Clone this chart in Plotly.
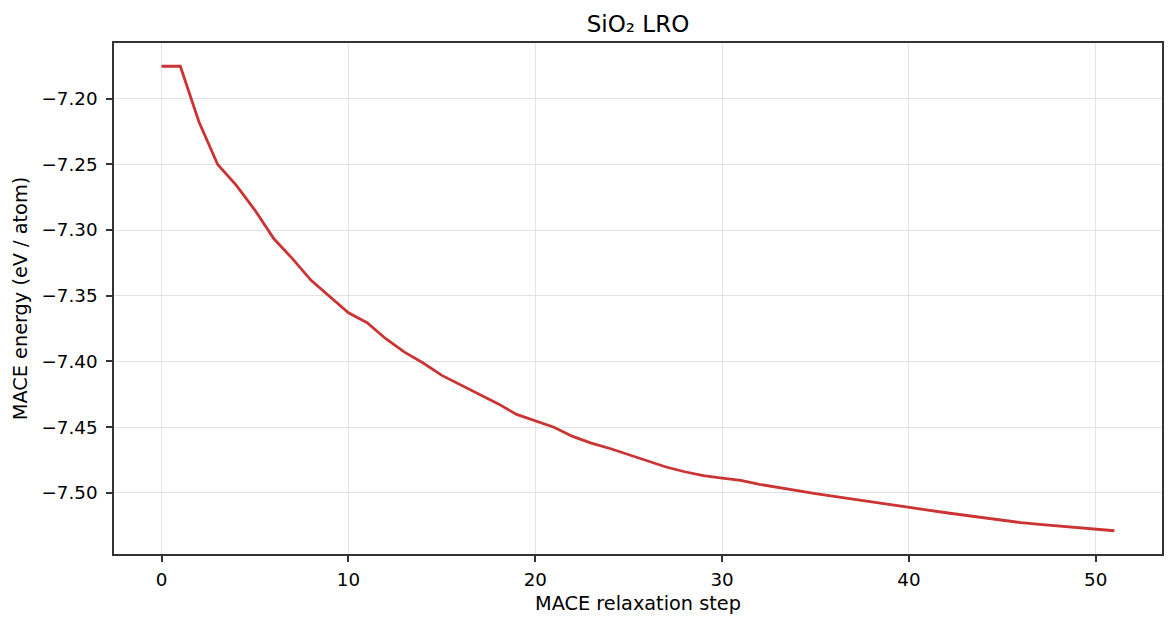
import plotly.graph_objects as go

steps = list(range(52))
energy = [
    -7.1754, -7.1754, -7.2178, -7.2502, -7.2660, -7.2850, -7.3065, -7.3218,
    -7.3383, -7.3510, -7.3630, -7.3705, -7.3827, -7.3929, -7.4012, -7.4106,
    -7.4177, -7.4245, -7.4321, -7.4403, -7.4454, -7.4500, -7.4570, -7.4621,
    -7.4662, -7.4709, -7.4758, -7.4803, -7.4839, -7.4869, -7.4887, -7.4905,
    -7.4935, -7.4960, -7.4980, -7.5005, -7.5026, -7.5047, -7.5067, -7.5092,
    -7.5113, -7.5133, -7.5151, -7.5170, -7.5190, -7.5208, -7.5226, -7.5240,
    -7.5253, -7.5265, -7.5276, -7.5288,
]
x_ticks = [0, 10, 20, 30, 40, 50]
y_ticks = [-7.20, -7.25, -7.30, -7.35, -7.40, -7.45, -7.50]

font_family = "DejaVu Sans, sans-serif"

fig = go.Figure()
fig.add_trace(go.Scatter(
    x=steps, y=energy, mode="lines",
    line=dict(color="#cc3333", width=2.8),
    showlegend=False,
))

span = max(energy) - min(energy)
fig.update_layout(
    width=1175, height=627,
    margin=dict(l=114, r=13, t=43, b=73),
    paper_bgcolor="white", plot_bgcolor="white",
    font=dict(family=font_family, size=18, color="black"),
    title=dict(text="SiO₂ LRO", x=0.5, xref="paper", xanchor="center",
               y=1 - 24 / 627, yref="container", yanchor="middle",
               font=dict(size=23, family=font_family, color="black")),
)
fig.update_xaxes(
    range=[-2.55, 53.55], tickvals=x_ticks,
    showgrid=True, gridcolor="#e3e3e3", gridwidth=1.4,
    showline=True, linecolor="#333", linewidth=1.6, mirror=True,
    ticks="outside", ticklen=6, tickwidth=1.6, tickcolor="#333",
    zeroline=False, ticklabelstandoff=2,
    title=dict(text="MACE relaxation step", standoff=8, font=dict(size=19.3)),
    tickfont=dict(size=18.3),
)
fig.update_yaxes(
    range=[min(energy) - 0.05 * span, max(energy) + 0.05 * span],
    tickvals=y_ticks, tickformat=".2f",
    showgrid=True, gridcolor="#e3e3e3", gridwidth=1.4,
    showline=True, linecolor="#333", linewidth=1.6, mirror=True,
    ticks="outside", ticklen=6, tickwidth=1.6, tickcolor="#333",
    zeroline=False, ticklabelstandoff=5,
    title=dict(text="MACE energy (eV / atom)", standoff=9, font=dict(size=19.3)),
    tickfont=dict(size=18.3),
)

fig.write_html("out.html")
